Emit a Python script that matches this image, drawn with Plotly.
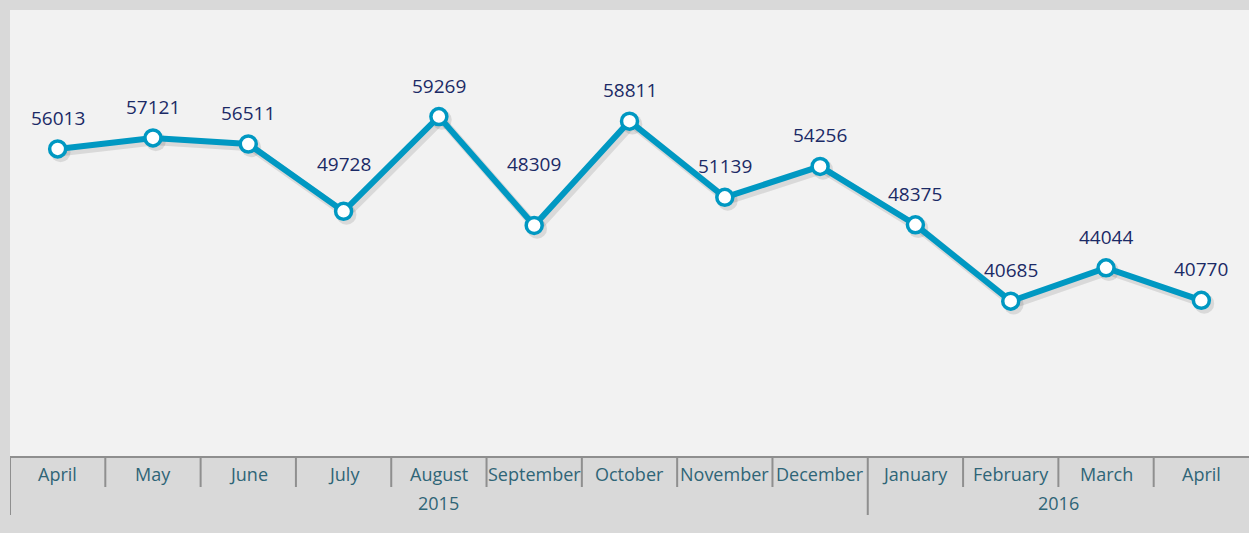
import plotly.graph_objects as go

months = ["April", "May", "June", "July", "August", "September", "October",
          "November", "December", "January", "February", "March", "April"]
values = [56013, 57121, 56511, 49728, 59269, 48309, 58811, 51139, 54256,
          48375, 40685, 44044, 40770]
years = ["2015", "2016"]
year_spans = [(0, 8), (9, 12)]  # index ranges of months belonging to each year

LINE = "#0098c2"
NAVY = "#1b2a66"
TEAL = "#2f6577"
SEP = "#8f8f8f"
FONT = "Open Sans"

# label offsets (px above the point); a few labels were moved in the original
LABEL_SHIFT_DEFAULT = 31
LABEL_SHIFT = {3: 47, 5: 61}

x = list(range(len(months)))
yr = [25000, 70000]
xr = [-0.5, 12.5]

fig = go.Figure()
# soft shadow on base axes (shifted ranges), main series on overlay axes
fig.add_trace(go.Scatter(x=x, y=values, mode="lines+markers", xaxis="x", yaxis="y",
                         line=dict(color="rgba(0,0,0,0.10)", width=8),
                         marker=dict(size=20, color="rgba(0,0,0,0.10)"),
                         hoverinfo="skip", showlegend=False))
fig.add_trace(go.Scatter(x=x, y=values, mode="lines+markers", xaxis="x2", yaxis="y2",
                         line=dict(color=LINE, width=6),
                         marker=dict(size=16, color="white", line=dict(color=LINE, width=3.5)),
                         showlegend=False))

annotations = []
for i, v in enumerate(values):
    annotations.append(dict(x=i, y=v, xref="x2", yref="y2", text=str(v), showarrow=False,
                            yshift=LABEL_SHIFT.get(i, LABEL_SHIFT_DEFAULT),
                            font=dict(family=FONT, size=19, color=NAVY)))

H = 447.0
for i, m in enumerate(months):
    annotations.append(dict(x=i, y=-17 / H, xref="x2", yref="paper", text=m, showarrow=False,
                            yanchor="middle", font=dict(family=FONT, size=18, color=TEAL)))
for yname, (a, b) in zip(years, year_spans):
    annotations.append(dict(x=(a + b) / 2, y=-46 / H, xref="x2", yref="paper", text=yname,
                            showarrow=False, yanchor="middle",
                            font=dict(family=FONT, size=18, color=TEAL)))

shapes = []
year_starts = [s for s, _ in year_spans]
for i in range(len(months)):
    long = i in year_starts
    shapes.append(dict(type="line", xref="x2", yref="paper", x0=i - 0.5, x1=i - 0.5,
                       y0=0, y1=-(58 if long else 30) / H,
                       line=dict(color=SEP, width=2)))
shapes.append(dict(type="line", xref="paper", yref="paper", x0=0, x1=1, y0=0, y1=0,
                   line=dict(color=SEP, width=2)))

dx = 0.03  # shadow shift in category units
dy = 330   # shadow shift in value units
fig.update_layout(
    width=1249, height=533,
    margin=dict(l=10, r=0, t=10, b=76),
    paper_bgcolor="#d9d9d9", plot_bgcolor="#f2f2f2",
    xaxis=dict(range=[xr[0] - dx, xr[1] - dx], showgrid=False, zeroline=False,
               showticklabels=False, showline=False, fixedrange=True),
    yaxis=dict(range=[yr[0] + dy, yr[1] + dy], showgrid=False, zeroline=False,
               showticklabels=False, showline=False, fixedrange=True),
    xaxis2=dict(range=xr, overlaying="x", visible=False, fixedrange=True),
    yaxis2=dict(range=yr, overlaying="y", visible=False, fixedrange=True),
    annotations=annotations, shapes=shapes,
)

fig.write_html("out.html", config={"displayModeBar": False},
               post_script="document.body.style.margin='0';")
